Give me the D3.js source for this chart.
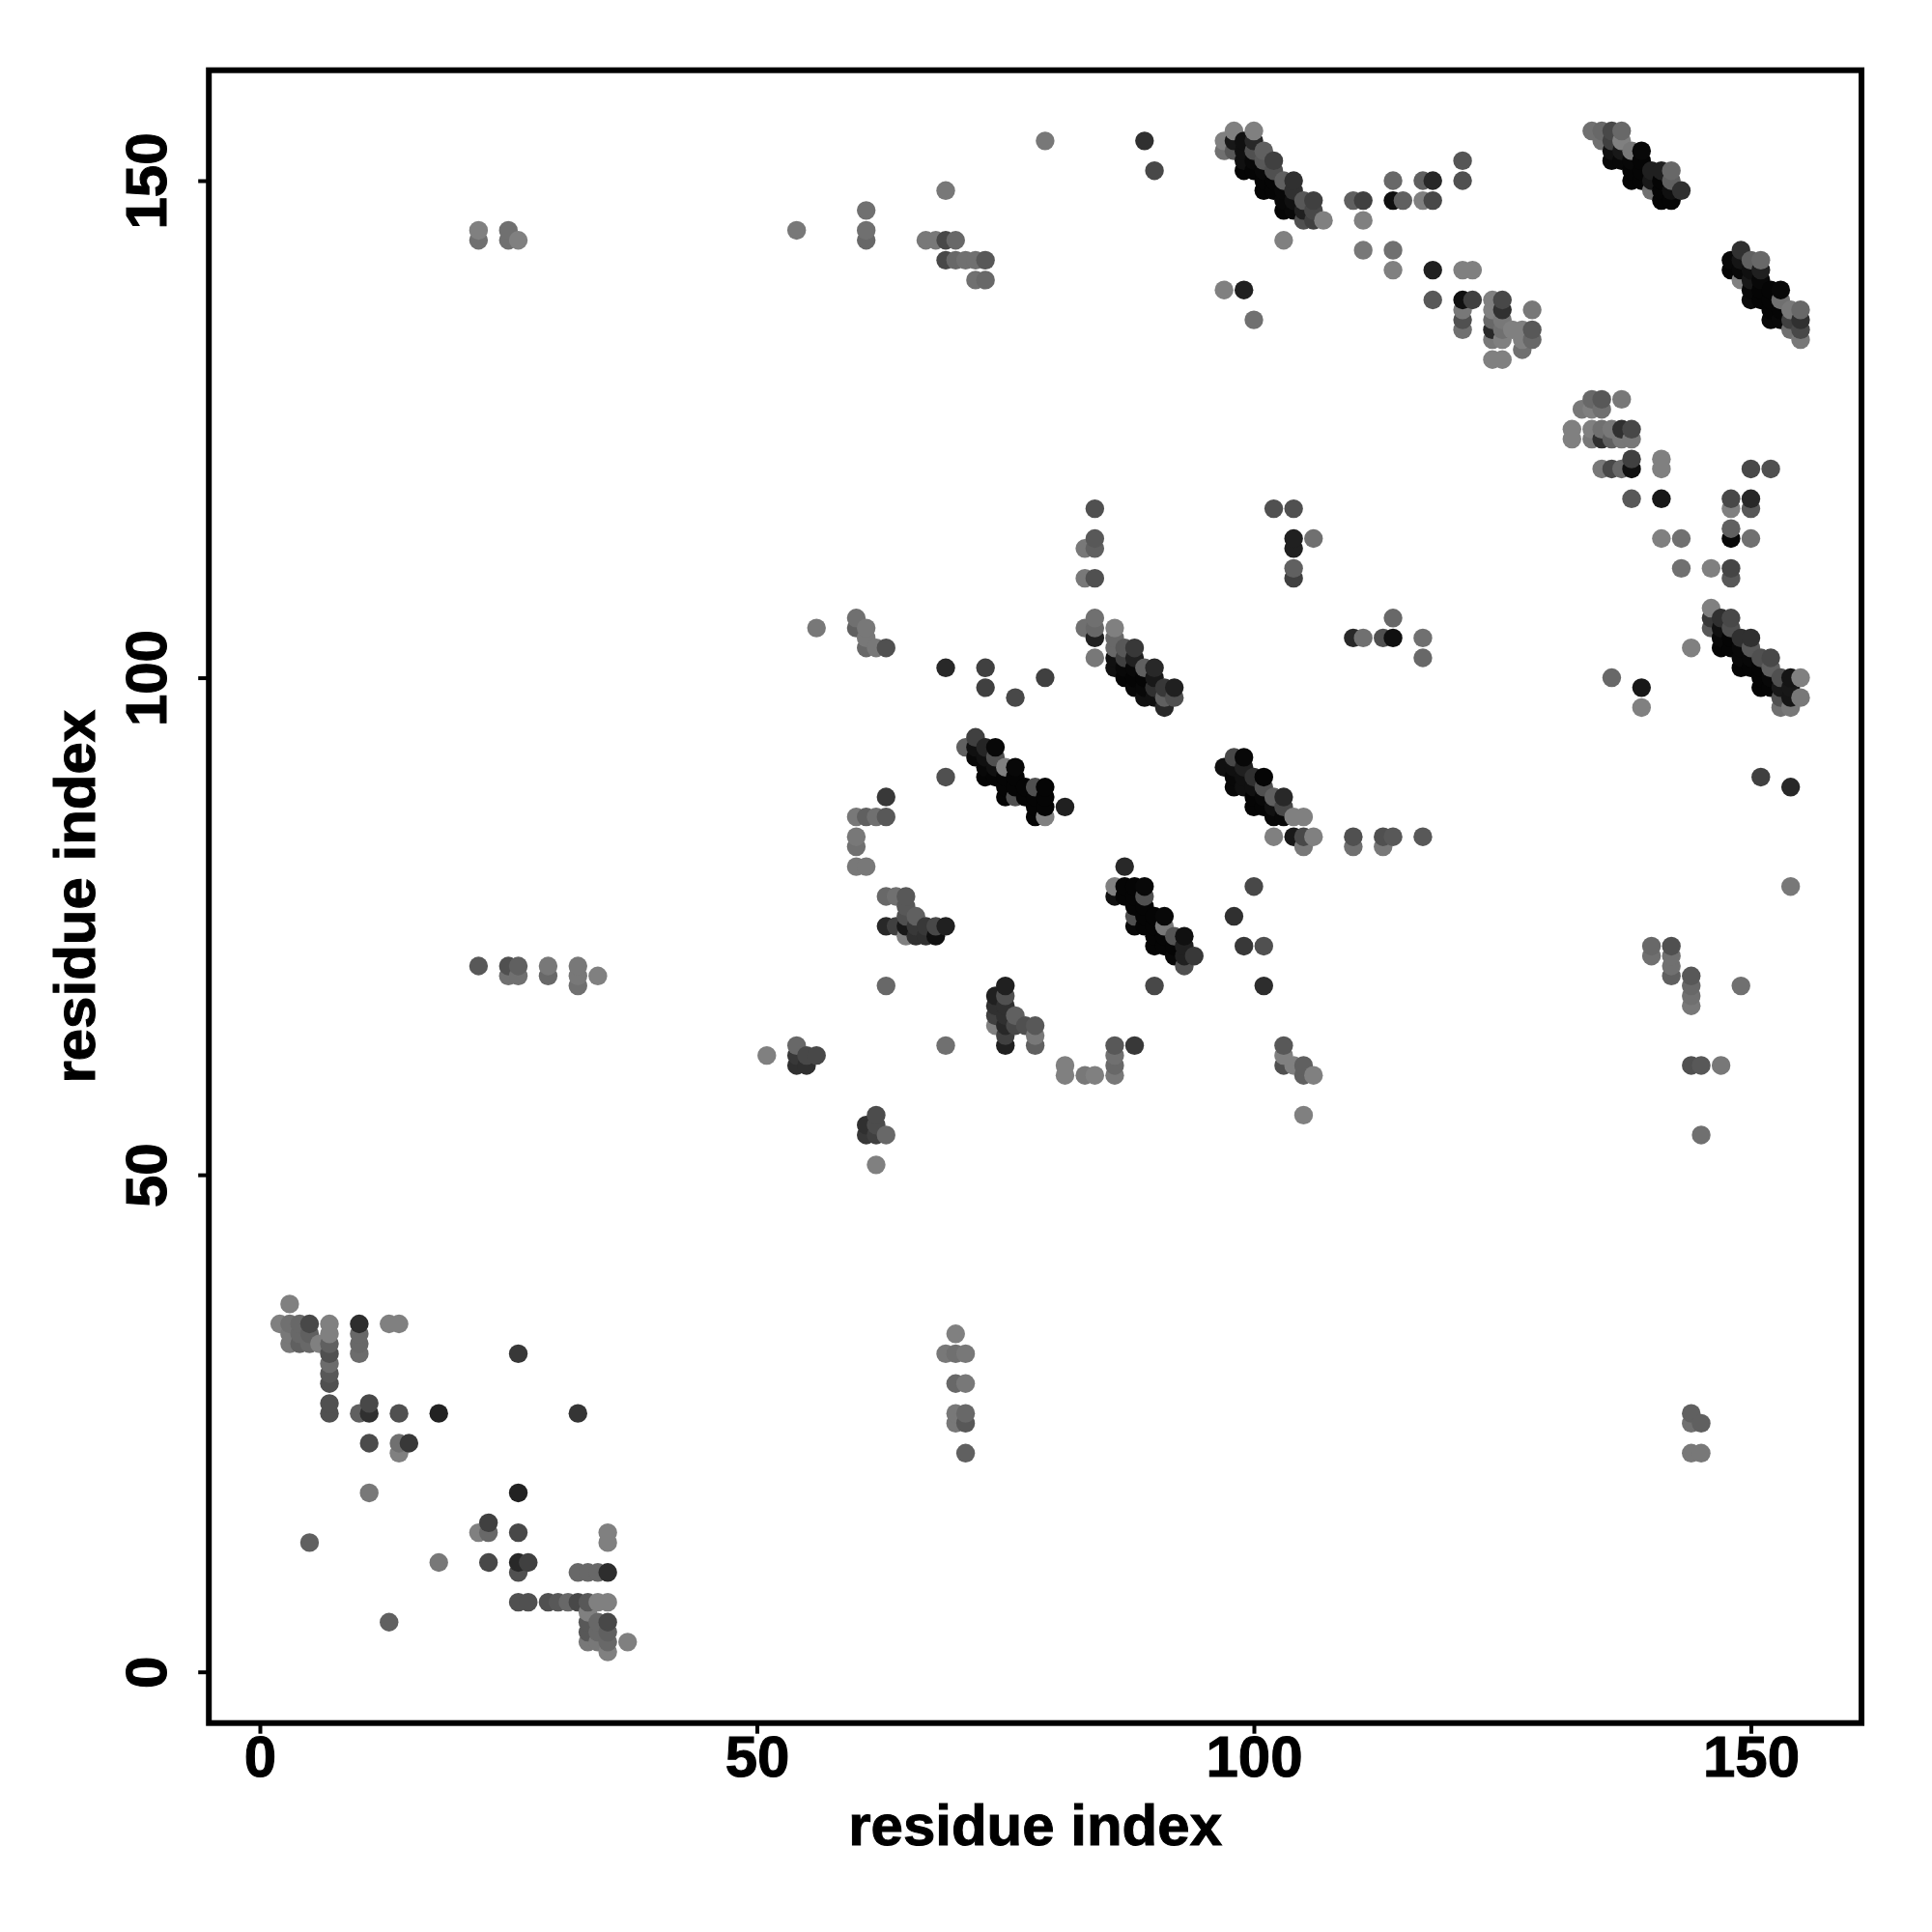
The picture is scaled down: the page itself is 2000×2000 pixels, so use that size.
<!DOCTYPE html>
<html><head><meta charset="utf-8">
<script src="https://cdn.jsdelivr.net/npm/d3@7/dist/d3.min.js"></script>
<style>html,body{margin:0;background:#fff}svg{display:block}text{font-family:"Liberation Sans",Arial,sans-serif;font-weight:700;fill:#000;stroke:#000;stroke-width:1px}</style>
</head><body><div id="chart"></div>
<script>
const xTicks=[0,50,100,150], yTicks=[0,50,100,150];
const xTitle="residue index", yTitle="residue index";
// each contact: [residue i, residue j, grey level]
const nTermContacts=[
[3,37,0x80],[2,35,0x80],[3,35,0x70],[4,35,0x68],[5,35,0x48],[7,35,0x80],[10,35,0x2d],[13,35,0x80],[14,35,0x80],
[3,34,0x78],[4,34,0x68],[5,34,0x60],[7,34,0x80],[10,34,0x68],[3,33,0x78],[4,33,0x60],[5,33,0x68],[6,33,0x80],[7,33,0x60],[10,33,0x68],
[7,32,0x50],[10,32,0x6c],[26,32,0x38],[7,31,0x6c],[7,30,0x58],[7,29,0x50],[7,27,0x50],[11,27,0x48],
[7,26,0x50],[10,26,0x60],[11,26,0x30],[14,26,0x50],[18,26,0x22],[32,26,0x35],[11,23,0x4b],[14,23,0x70],[15,23,0x38],[14,22,0x80],
[11,18,0x78],[26,18,0x22],[23,15,0x40],[22,14,0x80],[23,14,0x68],[26,14,0x48],[35,14,0x80],[5,13,0x60],[35,13,0x80],
[18,11,0x78],[23,11,0x48],[26,11,0x28],[27,11,0x40],[26,10,0x50],[32,10,0x68],[33,10,0x68],[34,10,0x68],[35,10,0x2d],
[26,7,0x50],[27,7,0x50],[29,7,0x50],[30,7,0x58],[31,7,0x68],[32,7,0x48],[33,7,0x58],[34,7,0x80],[35,7,0x80],[33,6,0x80],
[13,5,0x60],[33,5,0x58],[34,5,0x68],[35,5,0x48],[33,4,0x58],[34,4,0x68],[35,4,0x60],[33,3,0x78],[34,3,0x78],[35,3,0x68],[37,3,0x80],[35,2,0x80]];
const lowerMidContacts=[
[51,62,0x80],[54,63,0x68],[54,62,0x38],[54,61,0x30],[55,62,0x48],[55,61,0x30],[56,62,0x48],
[62,56,0x4c],[61,55,0x30],[61,54,0x38],[62,55,0x4c],[62,54,0x40],[63,54,0x68],[62,51,0x80],
[69,63,0x70],[81,61,0x80],[81,60,0x80],[83,60,0x78],[84,60,0x80],[86,63,0x58],[86,62,0x70],[86,61,0x68],[86,60,0x78],[88,63,0x38],
[70,34,0x80],[69,32,0x78],[70,32,0x70],[71,32,0x78],[70,29,0x68],[71,29,0x78],[70,26,0x78],[71,26,0x68],[70,25,0x78],[71,25,0x58],[71,22,0x60],
[144,26,0x60],[144,25,0x70],[145,25,0x60],[144,22,0x78],[145,22,0x78],[145,54,0x70],[144,61,0x50],[145,61,0x58],[147,61,0x78],
[140,73,0x68],[140,72,0x70],[142,73,0x50],[142,72,0x70],[142,71,0x70],[142,70,0x60],[144,70,0x58],[144,69,0x68],[144,68,0x70],[144,67,0x78],[149,69,0x70],
[22,71,0x58],[25,71,0x50],[26,71,0x60],[25,70,0x70],[26,70,0x70],[29,71,0x78],[29,70,0x68],[32,71,0x78],[32,70,0x78],[32,69,0x70],[34,70,0x80],
[103,63,0x58],[103,62,0x80],[103,61,0x50],[104,61,0x80],[105,61,0x60],[105,60,0x60],[106,60,0x80],[105,56,0x80]];
const helixA=[
[72,94,0x40],[71,93,0x60],[72,93,0x10],[73,93,0x25],[74,93,0x08],[72,92,0x08],[73,92,0x10],[74,92,0x50],
[73,91,0x08],[74,91,0x10],[75,91,0x80],[76,91,0x08],[73,90,0x05],[74,90,0x05],[75,90,0x05],[76,90,0x05],
[75,89,0x05],[76,89,0x05],[77,89,0x05],[78,89,0x50],[79,89,0x05],[75,88,0x05],[76,88,0x50],[77,88,0x05],[78,88,0x05],[79,88,0x05],
[78,87,0x05],[79,87,0x05],[81,87,0x20],[78,86,0x05],[79,86,0x80],[69,90,0x50]];
const helixB=[
[97,91,0x10],[98,92,0x48],[99,92,0x08],[98,91,0x10],[99,91,0x20],[98,90,0x08],[99,90,0x10],[100,90,0x30],[101,90,0x05],
[98,89,0x08],[99,89,0x10],[100,89,0x10],[101,89,0x50],[100,88,0x05],[101,88,0x08],[102,88,0x60],[103,88,0x28],
[100,87,0x05],[101,87,0x05],[102,87,0x10],[103,87,0x48],[102,86,0x08],[103,86,0x08],[104,86,0x80],[105,86,0x80],
[102,84,0x80],[104,84,0x18],[105,84,0x48],[106,84,0x80],[105,83,0x78],[110,84,0x50],[110,83,0x70],[113,84,0x50],[114,84,0x58],[113,83,0x78],[117,84,0x58],
[100,79,0x48],[98,76,0x30],[99,73,0x38],[101,73,0x50],[101,69,0x2d]];
const helixC=[
[87,81,0x28],[86,79,0x80],[87,79,0x05],[88,79,0x05],[89,79,0x08],[86,78,0x10],[87,78,0x05],[88,78,0x05],[89,78,0x50],
[88,77,0x05],[89,77,0x05],[88,76,0x50],[89,76,0x05],[90,76,0x05],[91,76,0x08],[88,75,0x08],[89,75,0x05],[90,75,0x05],[91,75,0x78],
[90,74,0x05],[91,74,0x05],[92,74,0x55],[93,74,0x10],[90,73,0x05],[91,73,0x05],[92,73,0x05],[93,73,0x20],
[92,72,0x08],[93,72,0x20],[94,72,0x38],[93,71,0x50],[90,69,0x48]];
const clusterD=[
[75,69,0x20],[74,68,0x20],[75,68,0x50],[74,67,0x30],[75,67,0x30],[74,66,0x40],[75,66,0x30],[76,66,0x60],
[74,65,0x80],[75,65,0x28],[76,65,0x48],[77,65,0x50],[78,65,0x58],[75,64,0x40],[78,64,0x78],[75,63,0x20],[78,63,0x60],
[63,88,0x38],[60,86,0x78],[61,86,0x60],[62,86,0x70],[63,86,0x58],[60,84,0x78],[60,83,0x70],[60,81,0x78],[61,81,0x78],
[63,78,0x68],[64,78,0x70],[65,78,0x58],[65,77,0x58],[65,76,0x50],[66,76,0x60],
[63,75,0x28],[64,75,0x40],[65,75,0x18],[66,75,0x38],[67,75,0x38],[68,75,0x48],[69,75,0x20],[65,74,0x80],[66,74,0x30],[67,74,0x30],[68,74,0x10],[63,69,0x68]];
const upperMidContacts=[
[56,105,0x78],[60,106,0x70],[60,105,0x60],[61,105,0x78],[61,104,0x78],[61,103,0x68],[62,103,0x78],[63,103,0x50],
[69,101,0x28],[73,101,0x40],[73,99,0x40],[76,98,0x48],[79,100,0x40],
[84,117,0x50],[83,113,0x78],[84,114,0x58],[84,113,0x60],[83,110,0x78],[84,110,0x50],[83,105,0x70],[84,106,0x70],[84,105,0x68],[84,104,0x20],[84,102,0x78],
[102,117,0x50],[104,117,0x50],[104,114,0x20],[104,113,0x20],[106,114,0x70],[104,111,0x60],[104,110,0x40],
[110,104,0x28],[111,104,0x70],[113,104,0x50],[114,104,0x10],[114,106,0x68],[117,104,0x70],[117,102,0x68],
[136,100,0x68],[139,99,0x18],[139,97,0x80],[151,90,0x40],[154,89,0x28],[154,79,0x78]];
const helixF=[
[86,105,0x80],[86,104,0x68],[86,103,0x68],[87,103,0x58],[88,103,0x38],[86,102,0x10],[87,102,0x40],[88,102,0x20],
[86,101,0x10],[87,101,0x08],[88,101,0x08],[89,101,0x60],[90,101,0x28],[87,100,0x05],[88,100,0x05],[89,100,0x05],[90,100,0x18],
[88,99,0x08],[89,99,0x08],[90,99,0x30],[91,99,0x38],[92,99,0x20],[89,98,0x10],[90,98,0x10],[91,98,0x60],[92,98,0x50],[91,97,0x28]];
const cluster130=[
[134,128,0x68],[135,128,0x58],[137,128,0x78],[133,127,0x78],[134,127,0x80],[135,127,0x70],[132,125,0x80],[132,124,0x80],
[134,125,0x80],[134,124,0x78],[135,125,0x70],[135,124,0x30],[136,125,0x78],[136,124,0x60],[137,125,0x30],[137,124,0x78],[138,125,0x48],[138,124,0x78],
[138,122,0x40],[141,122,0x80],[135,121,0x78],[136,121,0x48],[137,121,0x68],[138,121,0x10],[141,121,0x80],[150,121,0x48],[152,121,0x50],
[138,118,0x58],[141,118,0x18],[148,118,0x48],[150,118,0x28],[148,117,0x80],[150,117,0x58],[148,115,0x60],
[141,114,0x80],[143,114,0x70],[148,114,0x08],[150,114,0x70],[143,111,0x70],[146,111,0x80],[148,111,0x45],[148,110,0x58]];
const helixE=[
[146,107,0x80],[146,106,0x38],[147,106,0x30],[148,106,0x48],[146,105,0x58],[147,105,0x10],[148,105,0x50],
[147,104,0x08],[148,104,0x05],[149,104,0x30],[150,104,0x30],[144,103,0x80],[147,103,0x05],[148,103,0x05],[149,103,0x08],[150,103,0x58],
[149,102,0x08],[150,102,0x08],[151,102,0x50],[152,102,0x48],[149,101,0x05],[150,101,0x05],[151,101,0x05],[152,101,0x60],
[151,100,0x05],[152,100,0x08],[153,100,0x50],[154,100,0x15],[155,100,0x80],[151,99,0x05],[152,99,0x05],[153,99,0x18],[154,99,0x18],
[153,98,0x50],[154,98,0x15],[155,98,0x78],[153,97,0x70],[154,97,0x78]];
const helixG=[
[98,155,0x80],[100,155,0x80],[97,154,0x80],[98,154,0x18],[99,154,0x10],[100,154,0x28],[97,153,0x70],[98,153,0x58],[99,153,0x10],[100,153,0x50],[101,153,0x60],
[99,152,0x10],[100,152,0x08],[101,152,0x58],[102,152,0x40],[99,151,0x05],[100,151,0x05],[101,151,0x08],[102,151,0x50],
[101,150,0x05],[102,150,0x05],[103,150,0x60],[104,150,0x30],[101,149,0x05],[102,149,0x05],[103,149,0x08],[104,149,0x30],
[103,148,0x08],[104,148,0x10],[105,148,0x58],[106,148,0x40],[103,147,0x05],[104,147,0x08],[105,147,0x20],[106,147,0x48],
[105,146,0x50],[106,146,0x40],[107,146,0x80],[103,144,0x80],[97,139,0x80],[99,139,0x20],[100,136,0x70]];
const topLeftContacts=[
[22,145,0x80],[22,144,0x70],[25,145,0x70],[25,144,0x70],[26,144,0x80],[54,145,0x78],[61,147,0x70],[61,145,0x70],[61,144,0x68],
[69,149,0x78],[67,144,0x78],[68,144,0x78],[69,144,0x48],[70,144,0x68],[69,142,0x48],[70,142,0x68],[71,142,0x70],[72,142,0x70],[73,142,0x58],
[72,140,0x70],[73,140,0x68],[79,154,0x78],[89,154,0x30],[90,151,0x48]];
const topMidContacts=[
[110,148,0x60],[111,148,0x40],[111,146,0x80],[114,150,0x68],[114,148,0x10],[115,148,0x60],[117,150,0x60],[118,150,0x28],[117,148,0x80],[118,148,0x48],
[121,152,0x55],[121,150,0x50],[111,143,0x78],[114,143,0x70],[114,141,0x80],[118,141,0x20],[121,141,0x80],[122,141,0x80],
[118,138,0x58],[121,138,0x10],[122,138,0x40],[124,138,0x80],[125,138,0x48],[121,137,0x78],[124,137,0x80],[125,137,0x30],[128,137,0x78],
[121,136,0x50],[124,136,0x68],[125,136,0x78],[121,135,0x70],[124,135,0x28],[125,135,0x70],[126,135,0x80],[127,135,0x80],[128,135,0x58],
[124,134,0x78],[125,134,0x80],[127,134,0x80],[128,134,0x68],[127,133,0x70],[124,132,0x80],[125,132,0x80]];
const helixH=[
[134,155,0x70],[135,155,0x68],[136,155,0x48],[137,155,0x68],[135,154,0x70],[136,154,0x40],[137,154,0x80],
[136,153,0x10],[137,153,0x18],[138,153,0x78],[139,153,0x08],[136,152,0x08],[137,152,0x08],[138,152,0x08],[139,152,0x05],
[138,151,0x05],[139,151,0x05],[140,151,0x20],[141,151,0x20],[142,151,0x68],[138,150,0x05],[139,150,0x05],[140,150,0x18],[141,150,0x05],[142,150,0x60],
[140,149,0x70],[141,149,0x05],[142,149,0x10],[143,149,0x30],[141,148,0x05],[142,148,0x05]];
const helixI=[
[149,143,0x30],[148,142,0x08],[149,142,0x15],[150,142,0x60],[151,142,0x68],[148,141,0x05],[149,141,0x08],[150,141,0x10],[151,141,0x20],
[149,140,0x80],[150,140,0x18],[151,140,0x08],[150,139,0x08],[151,139,0x05],[152,139,0x05],[153,139,0x08],
[150,138,0x0a],[151,138,0x05],[152,138,0x05],[153,138,0x70],[152,137,0x05],[153,137,0x05],[154,137,0x78],[155,137,0x68],
[152,136,0x08],[153,136,0x08],[154,136,0x40],[155,136,0x30],[154,135,0x70],[155,135,0x48],[155,134,0x78]];

const contacts=[nTermContacts,lowerMidContacts,helixA,helixB,helixC,clusterD,upperMidContacts,helixF,cluster130,helixE,helixG,topLeftContacts,topMidContacts,helixH,helixI]
  .flat().slice().sort((a,b)=>a[0]-b[0]||a[1]-b[1]);

const W=2000,H=2000;
const frame={left:216.2,right:1927,top:72.7,bottom:1783.7};
const x=d3.scaleLinear().domain([0,150]).range([269,1812.5]);
const y=d3.scaleLinear().domain([0,150]).range([1730.7,187]);
const svg=d3.select("#chart").append("svg").attr("width",W).attr("height",H);
svg.append("rect").attr("width",W).attr("height",H).attr("fill","#fff");

svg.append("g").selectAll("circle").data(contacts).join("circle")
  .attr("cx",d=>x(d[0])).attr("cy",d=>y(d[1])).attr("r",9.7)
  .attr("fill",d=>d3.rgb(d[2],d[2],d[2]).formatHex());

svg.append("rect").attr("x",frame.left).attr("y",frame.top)
  .attr("width",frame.right-frame.left).attr("height",frame.bottom-frame.top)
  .attr("fill","none").attr("stroke","#000").attr("stroke-width",6);

const FS=60;
const gx=svg.append("g").attr("transform",`translate(0,${frame.bottom})`)
  .call(d3.axisBottom(x).tickValues(xTicks).tickSize(11).tickPadding(0).tickFormat(d3.format("d")));
gx.select(".domain").remove();
gx.selectAll("line").attr("stroke","#000").attr("stroke-width",4);
gx.selectAll("text").attr("font-size",FS).attr("y",55).attr("dy",0);

const gy=svg.append("g").attr("transform",`translate(${frame.left},0)`)
  .call(d3.axisLeft(y).tickValues(yTicks).tickSize(11).tickPadding(0).tickFormat(d3.format("d")));
gy.select(".domain").remove();
gy.selectAll("line").attr("stroke","#000").attr("stroke-width",4);
gy.selectAll("text").attr("font-size",FS).attr("x",null).attr("dy",0)
  .attr("text-anchor","middle")
  .attr("transform","translate(-44,0) rotate(-90)");

svg.append("text").attr("x",(frame.left+frame.right)/2).attr("y",1910)
  .attr("text-anchor","middle").attr("font-size",60).text(xTitle);
svg.append("text").attr("text-anchor","middle").attr("font-size",60)
  .attr("transform",`translate(98,${(frame.top+frame.bottom)/2}) rotate(-90)`).text(yTitle);
</script></body></html>
